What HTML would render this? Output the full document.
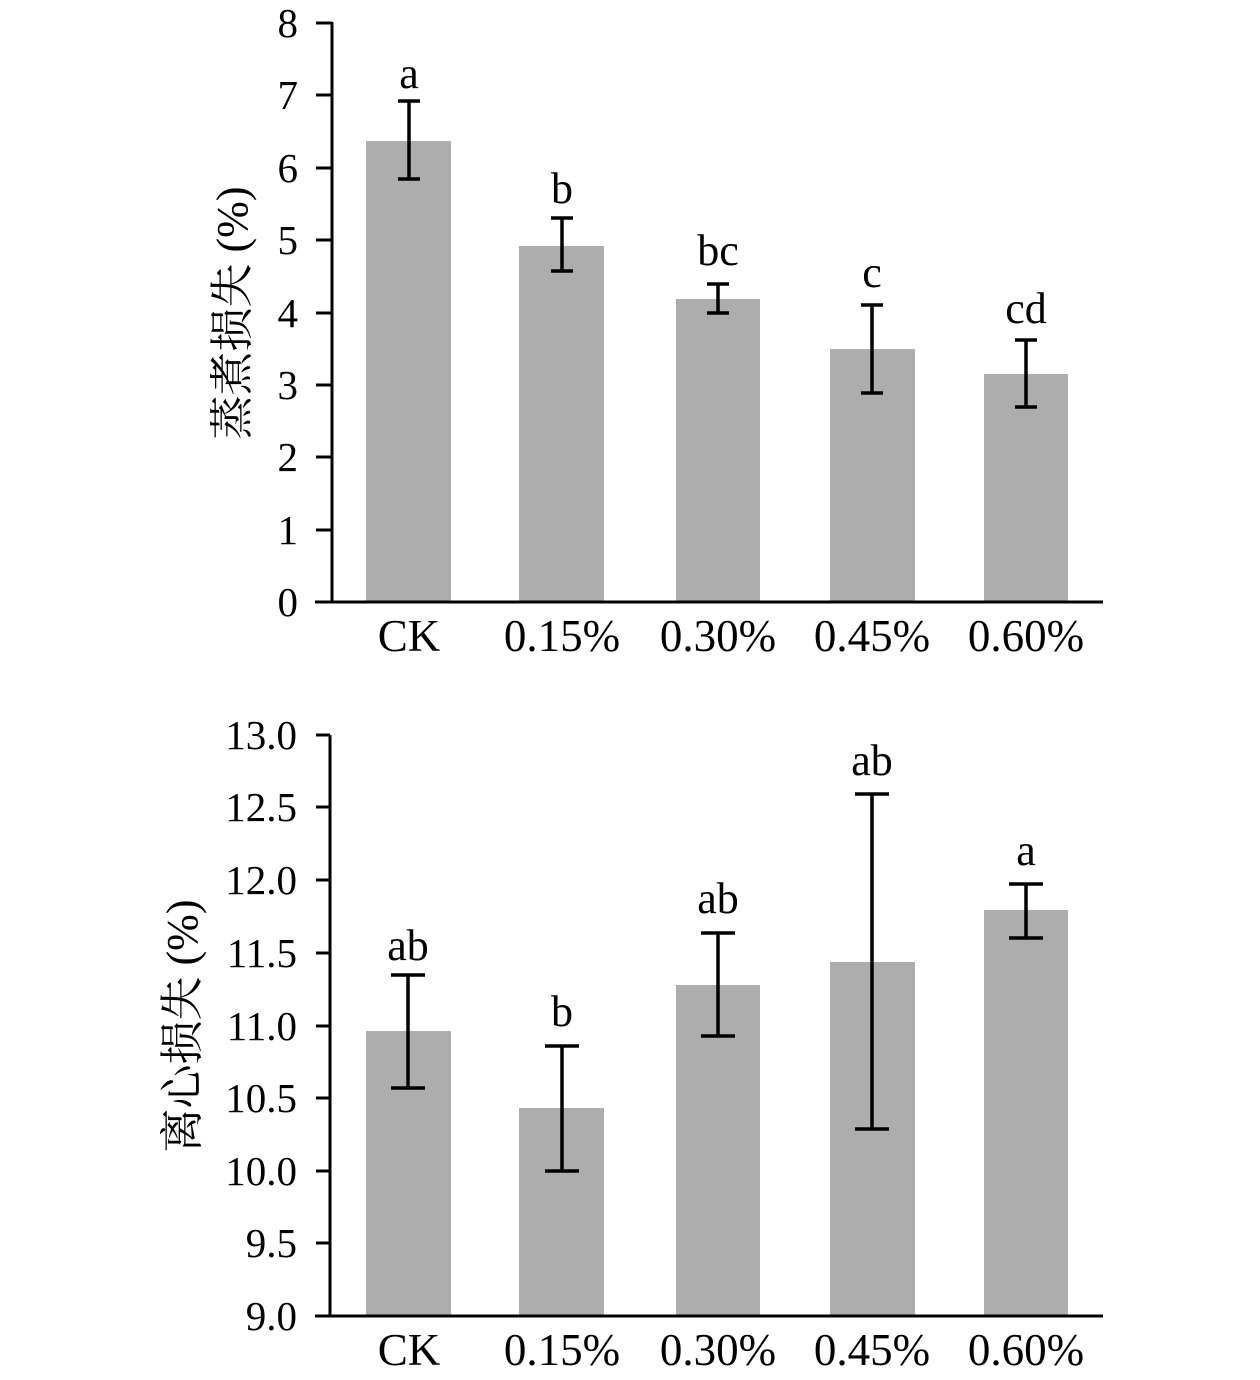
<!DOCTYPE html>
<html><head><meta charset="utf-8"><style>
html,body{margin:0;padding:0;background:#fff;}
svg{display:block;}
text{font-family:"Liberation Serif","Noto Serif CJK SC",serif;fill:#000;}
</style></head><body>
<svg width="1260" height="1380" viewBox="0 0 1260 1380" xmlns="http://www.w3.org/2000/svg">
<rect width="1260" height="1380" fill="#fff"/>
<!-- TOP CHART -->
<g fill="#adadad">
<rect x="366" y="141" width="85" height="461"/>
<rect x="519" y="246" width="85" height="356"/>
<rect x="676" y="299" width="84" height="303"/>
<rect x="830" y="349" width="85" height="253"/>
<rect x="984" y="374" width="84" height="228"/>
</g>
<g stroke="#000" stroke-width="3" fill="none">
<line x1="332" y1="22" x2="332" y2="603.5"/>
<line x1="315" y1="602" x2="1103" y2="602"/>
<line x1="316" y1="23" x2="332" y2="23"/>
<line x1="316" y1="95" x2="332" y2="95"/>
<line x1="316" y1="168" x2="332" y2="168"/>
<line x1="316" y1="240" x2="332" y2="240"/>
<line x1="316" y1="313" x2="332" y2="313"/>
<line x1="316" y1="385" x2="332" y2="385"/>
<line x1="316" y1="457" x2="332" y2="457"/>
<line x1="316" y1="530" x2="332" y2="530"/>
</g>
<g stroke="#000" stroke-width="3.5" fill="none">
<path d="M409 101V179M398 101H420M398 179H420"/>
<path d="M562 218V271M551 218H573M551 271H573"/>
<path d="M718 284V313M707 284H729M707 313H729"/>
<path d="M872 305V393M861 305H883M861 393H883"/>
<path d="M1026 340V407M1015 340H1037M1015 407H1037"/>
</g>
<g font-size="41" text-anchor="end">
<text x="298" y="37">8</text>
<text x="298" y="109">7</text>
<text x="298" y="182">6</text>
<text x="298" y="254">5</text>
<text x="298" y="327">4</text>
<text x="298" y="399">3</text>
<text x="298" y="471">2</text>
<text x="298" y="544">1</text>
<text x="298" y="616">0</text>
</g>
<g font-size="44" text-anchor="middle">
<text x="409" y="88">a</text>
<text x="562" y="203">b</text>
<text x="718" y="265">bc</text>
<text x="872" y="287">c</text>
<text x="1026" y="323">cd</text>
</g>
<g font-size="45" text-anchor="middle">
<text x="409" y="651">CK</text>
<text x="562" y="651">0.15%</text>
<text x="718" y="651">0.30%</text>
<text x="872" y="651">0.45%</text>
<text x="1026" y="651">0.60%</text>
</g>
<text font-size="44" text-anchor="middle" transform="translate(247,313) rotate(-90)">蒸煮损失 (%)</text>

<!-- BOTTOM CHART -->
<g fill="#adadad">
<rect x="366" y="1031" width="85" height="285"/>
<rect x="519" y="1108" width="85" height="208"/>
<rect x="676" y="985" width="84" height="331"/>
<rect x="830" y="962" width="85" height="354"/>
<rect x="984" y="910" width="84" height="406"/>
</g>
<g stroke="#000" stroke-width="3" fill="none">
<line x1="330" y1="735" x2="330" y2="1317.5"/>
<line x1="315" y1="1316" x2="1103" y2="1316"/>
<line x1="316" y1="735" x2="330" y2="735"/>
<line x1="316" y1="807" x2="330" y2="807"/>
<line x1="316" y1="880" x2="330" y2="880"/>
<line x1="316" y1="953" x2="330" y2="953"/>
<line x1="316" y1="1026" x2="330" y2="1026"/>
<line x1="316" y1="1098" x2="330" y2="1098"/>
<line x1="316" y1="1171" x2="330" y2="1171"/>
<line x1="316" y1="1243" x2="330" y2="1243"/>
</g>
<g stroke="#000" stroke-width="3.5" fill="none">
<path d="M408 975V1088M391 975H425M391 1088H425"/>
<path d="M562 1046V1171M545 1046H579M545 1171H579"/>
<path d="M718 933V1036M701 933H735M701 1036H735"/>
<path d="M872 794V1129M855 794H889M855 1129H889"/>
<path d="M1026 884V938M1009 884H1043M1009 938H1043"/>
</g>
<g font-size="41" text-anchor="end">
<text x="297" y="749">13.0</text>
<text x="297" y="821">12.5</text>
<text x="297" y="894">12.0</text>
<text x="297" y="967">11.5</text>
<text x="297" y="1040">11.0</text>
<text x="297" y="1112">10.5</text>
<text x="297" y="1185">10.0</text>
<text x="297" y="1257">9.5</text>
<text x="297" y="1330">9.0</text>
</g>
<g font-size="44" text-anchor="middle">
<text x="408" y="960">ab</text>
<text x="562" y="1026">b</text>
<text x="718" y="913">ab</text>
<text x="872" y="775">ab</text>
<text x="1026" y="865">a</text>
</g>
<g font-size="45" text-anchor="middle">
<text x="409" y="1365">CK</text>
<text x="562" y="1365">0.15%</text>
<text x="718" y="1365">0.30%</text>
<text x="872" y="1365">0.45%</text>
<text x="1026" y="1365">0.60%</text>
</g>
<text font-size="44" text-anchor="middle" transform="translate(197,1026) rotate(-90)">离心损失 (%)</text>
</svg>
</body></html>
